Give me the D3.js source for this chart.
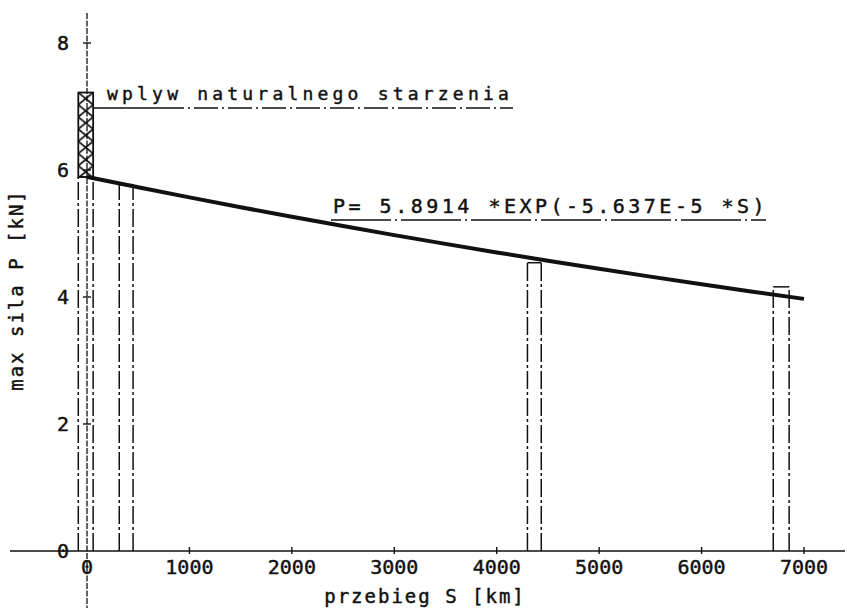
<!DOCTYPE html>
<html>
<head>
<meta charset="utf-8">
<script src="https://cdn.jsdelivr.net/npm/d3@7/dist/d3.min.js"></script>
<style>
  html, body { margin: 0; padding: 0; background: #fff; }
  svg text { font-family: "DejaVu Sans Mono", "Liberation Mono", monospace; fill: #111; stroke: #111; stroke-width: 0.45; }
</style>
</head>
<body>
<svg id="chart" width="847" height="611"></svg>
<script>
(function () {
  'use strict';

  /* ── Data ── */
  var xTicks = [0, 1000, 2000, 3000, 4000, 5000, 6000, 7000];
  var yTicks = [0, 2, 4, 6, 8];
  var fitA = 5.8914;
  var fitB = -5.637e-5;
  var curveS = [0, 500, 1000, 1500, 2000, 2500, 3000, 3500, 4000, 4500, 5000, 5500, 6000, 6500, 7000];
  /* dashed measurement bars: [S from, S to, top P] */
  var barFrom = [-85, 315, 4300, 6700];
  var barTo = [60, 450, 4435, 6855];
  var barTop = [5.89, 5.77, 4.54, 4.16];
  /* natural ageing band */
  var ageFrom = -85, ageTo = 60, ageLow = 5.89, ageHigh = 7.22;

  var svg = d3.select('#chart');
  var x = d3.scaleLinear().domain([0, 7000]).range([87, 804]);
  var y = d3.scaleLinear().domain([0, 8]).range([551, 43]);
  var ink = '#111';

  var defs = svg.append('defs');
  var pw = x(ageTo) - x(ageFrom);
  var pat = defs.append('pattern')
    .attr('id', 'xhatch')
    .attr('patternUnits', 'userSpaceOnUse')
    .attr('x', x(ageFrom)).attr('y', y(ageHigh))
    .attr('width', pw)
    .attr('height', 12.2);
  pat.append('path')
    .attr('d', 'M0,0 L' + pw + ',12.2 M' + pw + ',0 L0,12.2')
    .attr('stroke', ink).attr('stroke-width', 1.7).attr('fill', 'none');

  /* ── Axes ── */
  svg.append('line')
    .attr('x1', 10).attr('x2', 845)
    .attr('y1', y(0)).attr('y2', y(0))
    .attr('stroke', ink).attr('stroke-width', 1.6);
  svg.append('line')
    .attr('x1', x(0)).attr('x2', x(0))
    .attr('y1', 13).attr('y2', 608)
    .attr('stroke', ink).attr('stroke-width', 1.3)
    .attr('stroke-dasharray', '6 1.5');

  svg.append('g').selectAll('line')
    .data(xTicks.slice(1))
    .join('line')
    .attr('x1', function (d) { return x(d); })
    .attr('x2', function (d) { return x(d); })
    .attr('y1', y(0) - 4).attr('y2', y(0) + 3)
    .attr('stroke', ink).attr('stroke-width', 1.4);

  svg.append('g').selectAll('line')
    .data(yTicks.slice(1))
    .join('line')
    .attr('x1', x(0) - 4).attr('x2', x(0) + 4)
    .attr('y1', function (d) { return y(d); })
    .attr('y2', function (d) { return y(d); })
    .attr('stroke', ink).attr('stroke-width', 1.4);

  svg.append('g').selectAll('text')
    .data(xTicks)
    .join('text')
    .attr('x', function (d) { return x(d); })
    .attr('y', 574)
    .attr('text-anchor', 'middle')
    .attr('font-size', 20)
    .text(function (d) { return String(d); });

  svg.append('g').selectAll('text')
    .data(yTicks)
    .join('text')
    .attr('x', 63)
    .attr('y', function (d) { return y(d) + 7; })
    .attr('text-anchor', 'middle')
    .attr('font-size', 20)
    .text(function (d) { return String(d); });

  svg.append('text')
    .attr('x', 425).attr('y', 603)
    .attr('text-anchor', 'middle')
    .attr('font-size', 19)
    .attr('letter-spacing', 2)
    .text('przebieg S [km]');

  svg.append('text')
    .attr('transform', 'translate(23,290) rotate(-90)')
    .attr('text-anchor', 'middle')
    .attr('font-size', 19)
    .attr('letter-spacing', 2)
    .text('max sila P [kN]');

  /* ── Dashed bars ── */
  var barG = svg.append('g')
    .attr('stroke', ink).attr('stroke-width', 1.5).attr('fill', 'none');
  barFrom.forEach(function (s0, i) {
    var s1 = barTo[i], top = barTop[i];
    [s0, s1].forEach(function (s) {
      barG.append('line')
        .attr('x1', x(s)).attr('x2', x(s))
        .attr('y1', y(0)).attr('y2', y(top))
        .attr('stroke-dasharray', '18 3 3 3');
    });
    barG.append('line')
      .attr('x1', x(s0)).attr('x2', x(s1))
      .attr('y1', y(top)).attr('y2', y(top));
  });

  /* ── Natural ageing band ── */
  svg.append('rect')
    .attr('x', x(ageFrom)).attr('y', y(ageHigh))
    .attr('width', pw)
    .attr('height', y(ageLow) - y(ageHigh))
    .attr('fill', 'url(#xhatch)')
    .attr('stroke', ink).attr('stroke-width', 1.8);

  svg.append('line')
    .attr('x1', x(ageTo)).attr('x2', 160)
    .attr('y1', 108).attr('y2', 108)
    .attr('stroke', ink).attr('stroke-width', 1.5);
  svg.append('line')
    .attr('x1', 160).attr('x2', 513)
    .attr('y1', 108).attr('y2', 108)
    .attr('stroke', ink).attr('stroke-width', 1.5)
    .attr('stroke-dasharray', '24 4 2 4');
  svg.append('text')
    .attr('x', 107).attr('y', 100)
    .attr('font-size', 18)
    .attr('letter-spacing', 4.2)
    .text('wplyw naturalnego starzenia');

  /* ── Fitted curve ── */
  var line = d3.line()
    .x(function (s) { return x(s); })
    .y(function (s) { return y(fitA * Math.exp(fitB * s)); })
    .curve(d3.curveMonotoneX);
  svg.append('path')
    .datum(curveS)
    .attr('d', line)
    .attr('fill', 'none')
    .attr('stroke', ink)
    .attr('stroke-width', 4);

  svg.append('text')
    .attr('x', 333).attr('y', 213)
    .attr('font-size', 20)
    .attr('letter-spacing', 3.5)
    .text('P= ' + fitA + ' *EXP(' + '-5.637E-5' + ' *S)');
  svg.append('line')
    .attr('x1', 331).attr('x2', 766)
    .attr('y1', 220).attr('y2', 220)
    .attr('stroke', ink).attr('stroke-width', 1.5)
    .attr('stroke-dasharray', '60 4 2 4');
})();
</script>
</body>
</html>
